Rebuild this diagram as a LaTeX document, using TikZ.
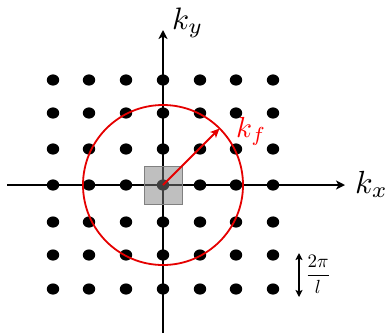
\documentclass[tikz,border=0pt]{standalone}
\usepackage{graphicx}
\usepackage{amsmath}
\usetikzlibrary{arrows.meta, calc}

\begin{document}
\begin{tikzpicture}[x=1pt, y=-1pt,
    ax/.style={-{Stealth[length=9pt, width=9pt, inset=2.5pt]}, line width=1.6pt},
    dot/.style={fill=black},
    kf/.style={red!90!black, line width=1.8pt},
    lbl/.style={inner sep=0pt, anchor=base west}
]
\useasboundingbox (0,0) rectangle (387,333);
% lattice of allowed k
\foreach \y in {80,113,149,185,222,255,289}
  \foreach \x in {53,89,126,163,200,236,273}
    \fill[dot] (\x,\y) ellipse [x radius=6.2, y radius=5.6];
% axes
\coordinate (O) at (163,185);
\coordinate (xl) at (7,185);
\coordinate (xr) at (345,185);
\coordinate (yb) at (163,333);
\coordinate (yt) at (163,30);
\draw[ax] (xl) -- (xr);
\draw[ax] (yb) -- (yt);
\node[lbl] (kx) at (355,193) {\scalebox{3.2}{$k_x$}};
\node[lbl] (ky) at (172,29) {\scalebox{3.1}{$k_y$}};
% cell around origin
\node[draw=black!50, line width=0.6pt, fill=black!50, fill opacity=0.5, minimum size=38pt, inner sep=0pt] (cell) at (O) {};
% Fermi circle
\draw[kf] (O) circle [radius=80];
\coordinate (kfend) at ($(O)+(56.5,-56.5)$);
\draw[kf, -{Stealth[length=9pt, width=8pt, inset=2pt]}] (O) -- (kfend);
\node[lbl, red] (kflbl) at (236,137) {\scalebox{2.9}{$k_f$}};
% spacing
\coordinate (st) at (299,253);
\coordinate (sb) at (299,297);
\draw[{Stealth[length=7pt, width=7pt, inset=1.5pt]}-{Stealth[length=7pt, width=7pt, inset=1.5pt]}, line width=1.6pt] (st) -- (sb);
\node[inner sep=0pt] (dk) at (318,274) {\scalebox{1.9}{$\displaystyle\frac{2\pi}{l}$}};
\end{tikzpicture}
\end{document}
